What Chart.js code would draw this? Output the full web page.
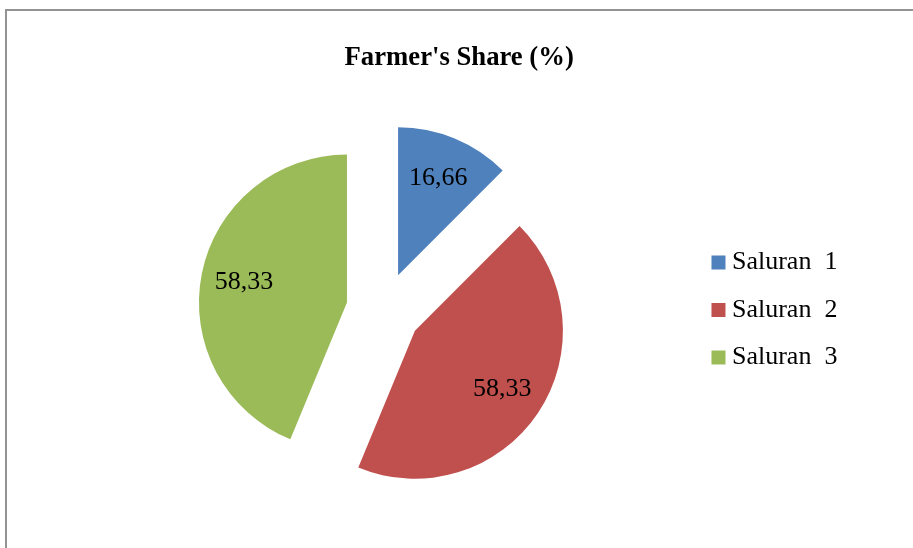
<!DOCTYPE html>
<html>
<head>
<meta charset="utf-8">
<script src="https://cdn.jsdelivr.net/npm/chart.js@4/dist/chart.umd.min.js"></script>
<style>
  html, body { margin: 0; padding: 0; background: #fff; overflow: hidden; }
  #frame {
    position: absolute; left: 5px; top: 9px; width: 2000px; height: 2000px;
    border: 2px solid #939393; box-sizing: border-box;
  }
  #wrap { position: absolute; left: 0; top: 0; width: 913px; height: 548px; }
</style>
</head>
<body>
<div id="frame"></div>
<div id="wrap"><canvas id="chart"></canvas></div>
<script>
const chartTitle = "Farmer's Share (%)";
const categories = ['Saluran  1', 'Saluran  2', 'Saluran  3'];
const shareValues = [16.66, 58.33, 58.33];
const sliceColors = ['#4F81BD', '#C0504D', '#9BBB59'];

const serif = 'Liberation Serif, Times New Roman, serif';
const explodeDistance = 37.5;

// pie whose slices are pulled out along their bisector without growing the radius
class ExplodedPieController extends Chart.PieController {
  draw() {
    const ctx = this.chart.ctx;
    const area = this.chart.chartArea;
    this._cachedMeta.data.forEach((arc) => {
      const mid = (arc.startAngle + arc.endAngle) / 2;
      ctx.save();
      ctx.translate(Math.cos(mid) * explodeDistance, Math.sin(mid) * explodeDistance);
      arc.draw(ctx, area);
      ctx.restore();
    });
  }
}
ExplodedPieController.id = 'explodedPie';
ExplodedPieController.defaults = Chart.PieController.defaults;
ExplodedPieController.overrides = Chart.PieController.overrides;
Chart.register(ExplodedPieController);

// value labels inside the slices
const sliceLabels = {
  id: 'sliceLabels',
  afterDatasetsDraw(chart) {
    const ctx = chart.ctx;
    const meta = chart.getDatasetMeta(0);
    ctx.save();
    ctx.font = '26px ' + serif;
    ctx.fillStyle = '#000';
    ctx.textAlign = 'center';
    ctx.textBaseline = 'middle';
    meta.data.forEach((arc, i) => {
      const { x, y, startAngle, endAngle, outerRadius } =
        arc.getProps(['x', 'y', 'startAngle', 'endAngle', 'outerRadius'], true);
      const mid = (startAngle + endAngle) / 2;
      const r = explodeDistance + outerRadius * 0.71;
      const text = shareValues[i].toFixed(2).replace('.', ',');
      ctx.fillText(text, x + Math.cos(mid) * r, y + Math.sin(mid) * r);
    });
    ctx.restore();
  },
};

new Chart(document.getElementById('chart'), {
  type: 'explodedPie',
  data: {
    labels: categories,
    datasets: [
      {
        data: shareValues,
        backgroundColor: sliceColors,
        borderWidth: 0,
        hoverOffset: 0,
        radius: 148,
      },
    ],
  },
  options: {
    responsive: true,
    maintainAspectRatio: false,
    animation: false,
    events: [],
    layout: {
      padding: { left: 71, right: 65.6, top: 0, bottom: 12.4 },
    },
    plugins: {
      title: {
        display: true,
        text: chartTitle,
        color: '#000',
        font: { family: serif, size: 26.7, weight: 'bold' },
        padding: { top: 42.2, bottom: 10 },
      },
      legend: {
        position: 'right',
        fullSize: false,
        labels: {
          color: '#000',
          font: { family: serif, size: 26 },
          usePointStyle: true,
          pointStyle: 'rect',
          boxWidth: 1,
          boxHeight: 14,
          padding: 21.5,
        },
      },
      tooltip: { enabled: false },
    },
  },
  plugins: [sliceLabels],
});
</script>
</body>
</html>
